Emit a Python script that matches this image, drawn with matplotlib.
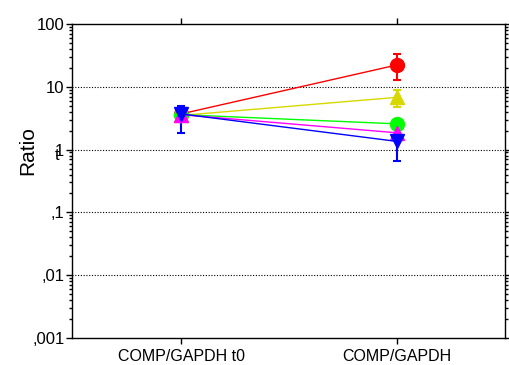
import matplotlib
matplotlib.use("Agg")
import matplotlib.pyplot as plt
import numpy as np
from matplotlib.ticker import FixedLocator, FixedFormatter, LogLocator, NullFormatter

plt.rcParams['font.family'] = ['Liberation Sans', 'DejaVu Sans']

# Data
categories = ["COMP/GAPDH t0", "COMP/GAPDH"]
series_colors = ["#ff0000", "#d8d800", "#00ff00", "#ff00ff", "#0000ff"]
series_markers = ["o", "^", "o", "^", "v"]
t0_values = [3.7, 3.5, 3.6, 3.6, 3.7]
end_values = [22.3, 6.8, 2.57, 1.85, 1.35]
t0_err_low = [0, 0, 0, 0, 1.85]
t0_err_high = [0, 0, 0, 0, 5.0]
end_err_low = [12.6, 4.8, 2.57, 1.6, 0.67]
end_err_high = [33.4, 9.0, 2.57, 2.1, 1.6]

y_ticks = [0.001, 0.01, 0.1, 1, 10, 100]
y_tick_labels = [",001", ",01", ",1", "1", "10", "100"]

fig = plt.figure(figsize=(5.1, 3.65), dpi=100)
ax = fig.add_axes([72 / 510, 1 - 338 / 365, (505 - 72) / 510, (338 - 24) / 365])

x = np.arange(len(categories))
for i in range(len(t0_values)):
    ys = np.array([t0_values[i], end_values[i]])
    lo = np.array([t0_err_low[i], end_err_low[i]])
    hi = np.array([t0_err_high[i], end_err_high[i]])
    lo = np.where(lo > 0, ys - lo, 0)
    hi = np.where(hi > 0, hi - ys, 0)
    ax.errorbar(x, ys, yerr=[lo, hi], color=series_colors[i], marker=series_markers[i],
                markersize=10, lw=1, elinewidth=1.5, capsize=3, capthick=1.5)

ax.set_yscale("log")
ax.set_ylim(0.001, 100)
ax.set_xlim(-0.505, 1.5)
ax.yaxis.set_major_locator(FixedLocator(y_ticks))
ax.yaxis.set_major_formatter(FixedFormatter(y_tick_labels))
ax.yaxis.set_minor_locator(LogLocator(base=10, subs=np.arange(2, 10)))
ax.yaxis.set_minor_formatter(NullFormatter())
ax.set_xticks(x)
ax.set_xticklabels(categories)

ax.tick_params(axis="both", which="major", direction="out", length=4, width=1,
               labelsize=12, top=True, right=True)
ax.tick_params(axis="y", which="major", pad=1.5)
ax.tick_params(axis="x", which="major", pad=4, labelsize=11.5)
ax.tick_params(axis="y", which="minor", direction="out", length=2.5, width=1, right=True)
for v in y_ticks[1:-1]:
    ax.axhline(v, color="black", lw=0.8, ls=(0, (1, 1.5)), zorder=0)
for s in ax.spines.values():
    s.set_linewidth(1)

ax.set_ylabel("Ratio", fontsize=15)
ax.yaxis.set_label_coords(-0.08, 0.596)
fig.text(57 / 510, 1 - 156 / 365, "t", fontsize=12, ha="center", va="center")

fig.savefig("out.png", dpi=100)
